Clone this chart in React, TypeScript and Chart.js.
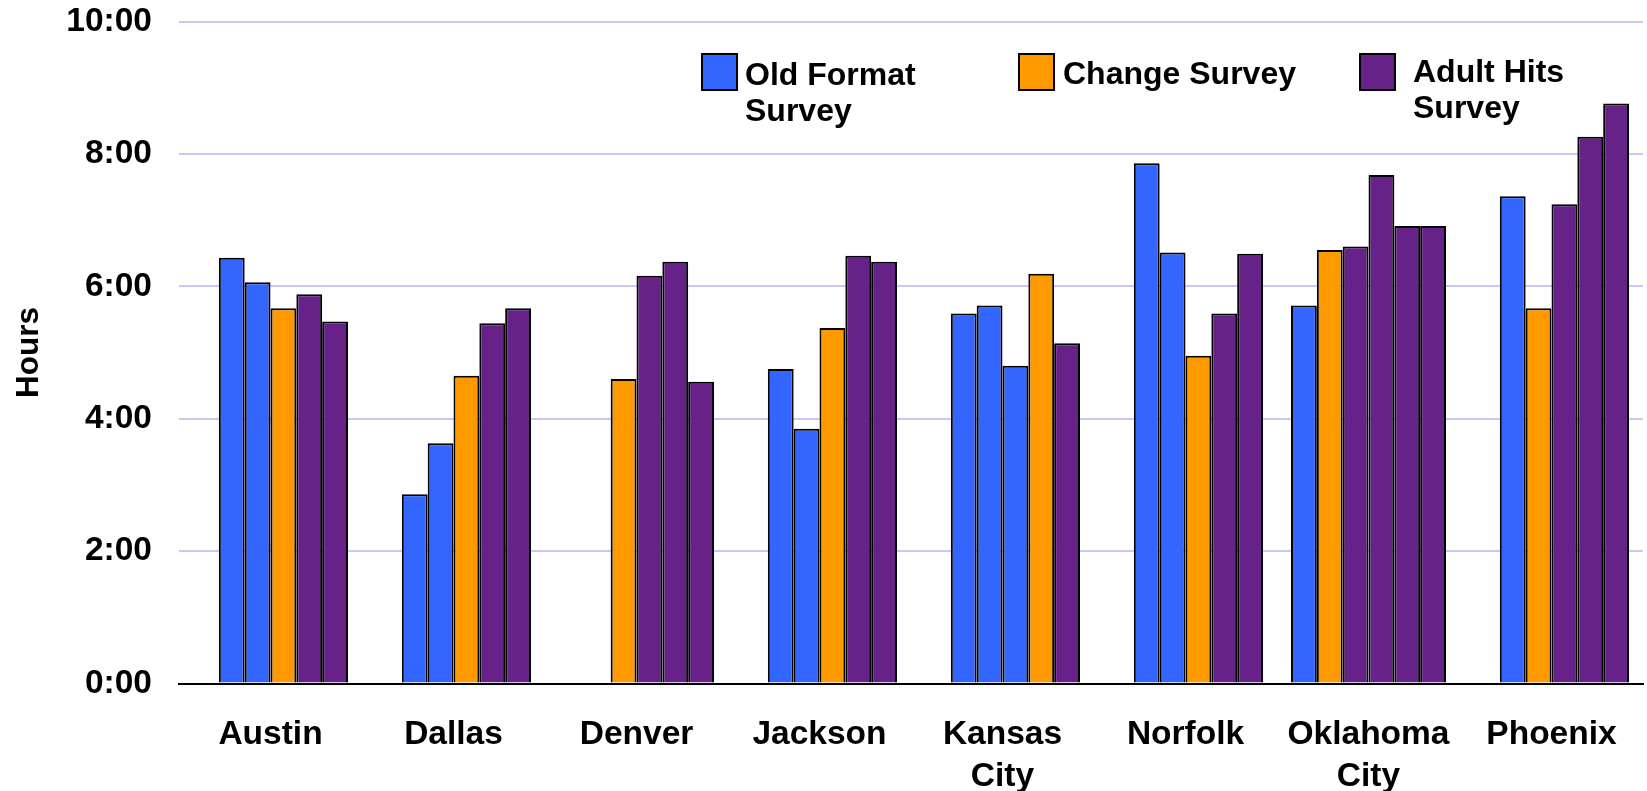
import React, { useEffect, useRef } from "react";
import { Chart, registerables } from "chart.js";

Chart.register(...registerables);

// ---- Data ----
const cities: (string | string[])[] = [
  "Austin",
  "Dallas",
  "Denver",
  "Jackson",
  ["Kansas", "City"],
  "Norfolk",
  ["Oklahoma", "City"],
  "Phoenix",
];

// Six bar slots per city (hours, decimal). null = no bar in that slot.
const slot0: (number | null)[] = [null, null, null, null, null, null, 5.71, null];
const slot1: (number | null)[] = [6.43, 2.86, null, 4.75, 5.59, 7.86, 6.55, 7.36];
const slot2: (number | null)[] = [6.06, 3.63, 4.6, 3.85, 5.71, 6.51, 6.6, 5.67];
const slot3: (number | null)[] = [5.67, 4.65, 6.16, 5.37, 4.8, 4.95, 7.68, 7.24];
const slot4: (number | null)[] = [5.88, 5.44, 6.37, 6.46, 6.19, 5.59, 6.91, 8.26];
const slot5: (number | null)[] = [5.47, 5.67, 4.56, 6.37, 5.14, 6.49, 6.91, 8.76];

// Survey type of each bar: O = Old Format, C = Change, A = Adult Hits
const kind0 = ["", "", "", "", "", "", "O", ""];
const kind1 = ["O", "O", "", "O", "O", "O", "C", "O"];
const kind2 = ["O", "O", "C", "O", "O", "O", "A", "C"];
const kind3 = ["C", "C", "A", "C", "O", "C", "A", "A"];
const kind4 = ["A", "A", "A", "A", "C", "A", "A", "A"];
const kind5 = ["A", "A", "A", "A", "A", "A", "A", "A"];

const legendKinds = ["O", "C", "A"];
const legendLabels: string[][] = [["Old Format", "Survey"], ["Change Survey"], ["Adult Hits", "Survey"]];

const yTicks = [0, 2, 4, 6, 8, 10];

// ---- Styles ----
const COLORS: Record<string, string> = { O: "#3366FF", C: "#FF9900", A: "#662288", "": "#000000" };
const FONT = "'Liberation Sans', Arial, sans-serif";

function fmtHours(v: number): string {
  const h = Math.floor(v);
  const m = Math.round((v - h) * 60);
  return `${h}:${m.toString().padStart(2, "0")}`;
}

const legendPlugin = {
  id: "customLegend",
  afterDraw(chart: any) {
    const ctx = chart.ctx;
    const boxes = [
      { bx: 702, by: 54, tx: 745, ty: 85 },
      { bx: 1019, by: 54, tx: 1063, ty: 84 },
      { bx: 1360, by: 54, tx: 1413, ty: 82 },
    ];
    ctx.save();
    legendKinds.forEach((k, i) => {
      const b = boxes[i];
      ctx.fillStyle = COLORS[k];
      ctx.fillRect(b.bx, b.by, 35, 36);
      ctx.lineWidth = 2;
      ctx.strokeStyle = "#000";
      ctx.strokeRect(b.bx, b.by, 35, 36);
      ctx.fillStyle = "#000";
      ctx.font = `bold 32px ${FONT}`;
      ctx.textAlign = "left";
      ctx.textBaseline = "alphabetic";
      legendLabels[i].forEach((line, j) => {
        ctx.fillText(line, b.tx, b.ty + j * 36);
      });
    });
    ctx.restore();
  },
};

export default function App() {
  const ref = useRef<HTMLCanvasElement | null>(null);

  useEffect(() => {
    document.body.style.margin = "0";
    const slots = [slot0, slot1, slot2, slot3, slot4, slot5];
    const kinds = [kind0, kind1, kind2, kind3, kind4, kind5];
    const chart = new Chart(ref.current as HTMLCanvasElement, {
      type: "bar",
      data: {
        labels: cities,
        datasets: slots.map((s, i) => ({
          label: `slot${i}`,
          data: s,
          backgroundColor: kinds[i].map((k) => COLORS[k]),
          borderColor: "#000000",
          borderWidth: 2,
          borderSkipped: "bottom",
          barPercentage: 1,
          categoryPercentage: 0.847,
        })),
      },
      options: {
        responsive: false,
        animation: false,
        layout: { padding: { top: 21.5, right: 4, left: 0, bottom: 0 } },
        plugins: {
          legend: { display: false },
          tooltip: { enabled: false },
        },
        scales: {
          x: {
            grid: { display: false, drawTicks: false },
            border: { display: true, color: "#000000", width: 2 },
            ticks: {
              color: "#000000",
              font: { family: FONT, size: 33.5, weight: "bold", lineHeight: 1.25 },
              padding: 30,
              maxRotation: 0,
              autoSkip: false,
            },
            afterFit: (scale: any) => {
              scale.height = 107.5;
              scale.paddingLeft = 0;
              scale.paddingRight = 0;
            },
          },
          y: {
            min: 0,
            max: 10,
            afterBuildTicks: (scale: any) => {
              scale.ticks = yTicks.map((v) => ({ value: v }));
            },
            grid: {
              color: (c: any) => (c.tick && c.tick.value === 0 ? "rgba(0,0,0,0)" : "#C8C8F8"),
              lineWidth: 2,
              drawTicks: false,
            },
            border: { display: false },
            ticks: {
              color: "#000000",
              font: { family: FONT, size: 33.5, weight: "bold" },
              padding: 27,
              callback: (v: any) => fmtHours(Number(v)),
            },
            title: {
              display: true,
              text: "Hours",
              color: "#000000",
              font: { family: FONT, size: 31.5, weight: "bold", lineHeight: 1.2 },
              padding: { top: 10, bottom: 0 },
            },
            afterFit: (scale: any) => {
              scale.width = 179;
              scale.paddingTop = 0;
              scale.paddingBottom = 0;
            },
          },
        },
      },
      plugins: [legendPlugin],
    } as any);
    return () => chart.destroy();
  }, []);

  return (
    <div style={{ position: "absolute", left: 0, top: 0, width: 1647, height: 791 }}>
      <canvas ref={ref} width={1647} height={791} style={{ display: "block" }} />
    </div>
  );
}
